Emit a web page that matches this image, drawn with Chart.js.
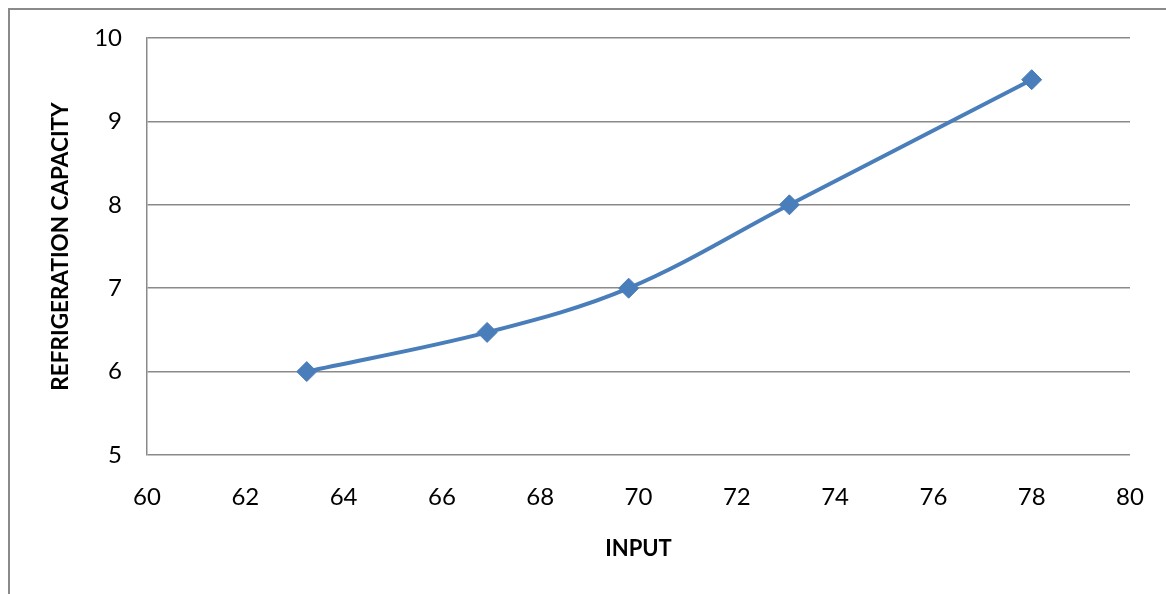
<!DOCTYPE html>
<html>
<head>
<meta charset="utf-8">
<script src="https://cdn.jsdelivr.net/npm/chart.js@4/dist/chart.umd.min.js"></script>
<style>
  html, body { margin: 0; padding: 0; background: #ffffff; }
  #wrap { width: 1166px; height: 594px; position: relative; }
</style>
</head>
<body>
<div id="wrap"><canvas id="chart" width="1166" height="594"></canvas></div>
<script>
// Refrigeration capacity measured against input
const inputValues = [63.25, 66.92, 69.8, 73.07, 78];
const capacityValues = [6, 6.47, 7, 8, 9.5];
const xTickRange = { min: 60, max: 80, step: 2 };
const yTickRange = { min: 5, max: 10, step: 1 };
const xTitle = 'INPUT';
const yTitle = 'REFRIGERATION CAPACITY';

const points = inputValues.map((x, i) => ({ x: x, y: capacityValues[i] }));

const GRID = '#8a8a8a';
const LINE = '#4a7ebb';

// Outer frame of the chart object (top and left edges)
const framePlugin = {
  id: 'frame',
  beforeDraw(chart) {
    const ctx = chart.ctx;
    ctx.save();
    ctx.fillStyle = '#ffffff';
    ctx.fillRect(0, 0, chart.width, chart.height);
    ctx.strokeStyle = GRID;
    ctx.lineWidth = 2;
    ctx.beginPath();
    ctx.moveTo(9, chart.height);
    ctx.lineTo(9, 9);
    ctx.lineTo(chart.width, 9);
    ctx.stroke();
    ctx.restore();
  }
};

new Chart(document.getElementById('chart'), {
  type: 'line',
  data: {
    datasets: [{
      data: points,
      borderColor: LINE,
      backgroundColor: LINE,
      borderWidth: 4,
      tension: 0.35,
      fill: false,
      pointStyle: 'rectRot',
      pointRadius: 10,
      pointBorderWidth: 1,
      pointBackgroundColor: LINE,
      pointBorderColor: LINE
    }]
  },
  options: {
    responsive: false,
    animation: false,
    devicePixelRatio: 1,
    layout: { padding: { left: 0, top: 38, right: 36, bottom: 0 } },
    plugins: { legend: { display: false }, tooltip: { enabled: false } },
    scales: {
      x: {
        type: 'linear',
        min: xTickRange.min,
        max: xTickRange.max,
        afterFit(scale) {
          scale.height = 139;
          scale.paddingLeft = 0;
          scale.paddingRight = 0;
        },
        ticks: {
          stepSize: xTickRange.step,
          padding: 28,
          color: '#000000',
          font: { family: 'Lato', size: 24 },
          maxRotation: 0
        },
        grid: { display: false, drawTicks: false },
        border: { display: false },
        title: {
          display: true,
          text: xTitle,
          color: '#000000',
          font: { family: 'Lato', size: 22, weight: 'bold' },
          padding: { top: 0, bottom: 32 }
        }
      },
      y: {
        type: 'linear',
        min: yTickRange.min,
        max: yTickRange.max,
        afterFit(scale) {
          scale.width = 147;
          scale.paddingTop = 0;
          scale.paddingBottom = 0;
        },
        ticks: {
          stepSize: yTickRange.step,
          padding: 25,
          color: '#000000',
          font: { family: 'Lato', size: 24 }
        },
        grid: { color: GRID, lineWidth: 1.5, drawTicks: false },
        border: { display: true, color: GRID, width: 1.5 },
        title: {
          display: true,
          text: yTitle,
          color: '#000000',
          font: { family: 'Lato', size: 22.5, weight: 'bold' },
          padding: { top: 47, bottom: 47 }
        }
      }
    }
  },
  plugins: [framePlugin]
});
</script>
</body>
</html>
